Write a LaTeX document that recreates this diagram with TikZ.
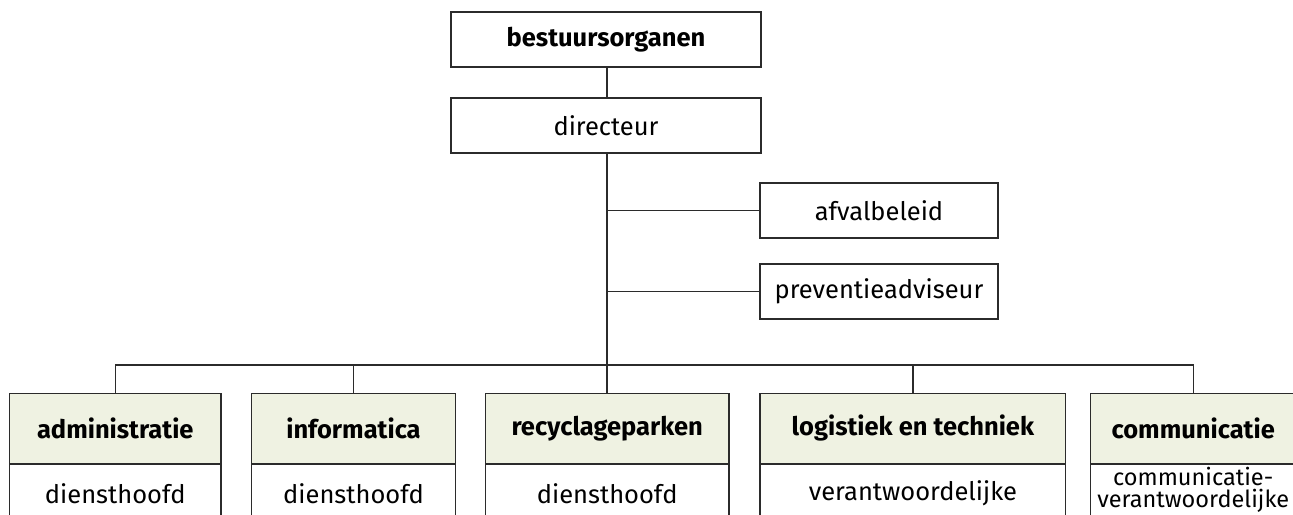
\documentclass[tikz,border=0pt]{standalone}
\usepackage{fontspec}
\setmainfont{Fira Sans}
\definecolor{linec}{HTML}{2B2B2B}
\definecolor{headfill}{HTML}{EFF2E2}
\tikzset{
  box/.style={draw=linec, line width=1.2pt, rectangle, inner sep=0pt, align=center,
    font=\fontsize{25.5}{28}\selectfont, text=black},
  topbox/.style={box, minimum width=310pt, minimum height=55pt},
  sidebox/.style={box, minimum width=238pt, minimum height=55pt},
  headbox/.style={box, fill=headfill, minimum height=70pt, font=\fontsize{25.5}{28}\selectfont\bfseries},
  lowbox/.style={box, minimum height=58pt},
  conn/.style={draw=linec, line width=1.2pt}
}
\begin{document}
\begin{tikzpicture}[x=1pt,y=-1pt]
\useasboundingbox (0,0) rectangle (1293,514);
\clip (0,0) rectangle (1293,514);
\node[topbox, font=\fontsize{25.5}{28}\selectfont\bfseries] (best) at (606,39.5) {bestuursorganen};
\node[topbox] (dir) at (606,125.5) {directeur};
\node[sidebox] (afv) at (879,210.5) {afvalbeleid};
\node[sidebox] (prev) at (879,291.5) {preventieadviseur};

\node[headbox, minimum width=211.5pt] (h1) at (115.25,428.3) {administratie};
\node[headbox, minimum width=203.6pt] (h2) at (353.5,428.3) {informatica};
\node[headbox, minimum width=243.7pt] (h3) at (607.2,428.3) {recyclageparken};
\node[headbox, minimum width=305.7pt] (h4) at (912.9,428.3) {logistiek en techniek};
\node[headbox, minimum width=205pt] (h5) at (1193.2,428.3) {communicatie};

\node[lowbox, minimum width=211.5pt, anchor=north] (l1) at (h1.south) {diensthoofd};
\node[lowbox, minimum width=203.6pt, anchor=north] (l2) at (h2.south) {diensthoofd};
\node[lowbox, minimum width=243.7pt, anchor=north] (l3) at (h3.south) {diensthoofd};
\node[lowbox, minimum width=305.7pt, anchor=north] (l4) at (h4.south) {verantwoordelijke};
\node[lowbox, minimum width=205pt, minimum height=51pt, anchor=north, font=\fontsize{23.5}{22.5}\selectfont] (l5) at (h5.south) {communicatie-\\verantwoordelijke};

\coordinate (bus) at (607,365);
\coordinate (ja) at (607,210.5);
\coordinate (jp) at (607,291.5);
\path[conn] (best.south -| bus) -- (dir.north -| bus);
\path[conn] (dir.south -| bus) -- (h3.north -| bus);
\path[conn] (ja) -- (afv.west);
\path[conn] (jp) -- (prev.west);
\path[conn] (h1.north) |- (bus) -| (h5.north);
\path[conn] (h2.north) -- (h2.north |- bus);
\path[conn] (h4.north) -- (h4.north |- bus);
\end{tikzpicture}
\end{document}
